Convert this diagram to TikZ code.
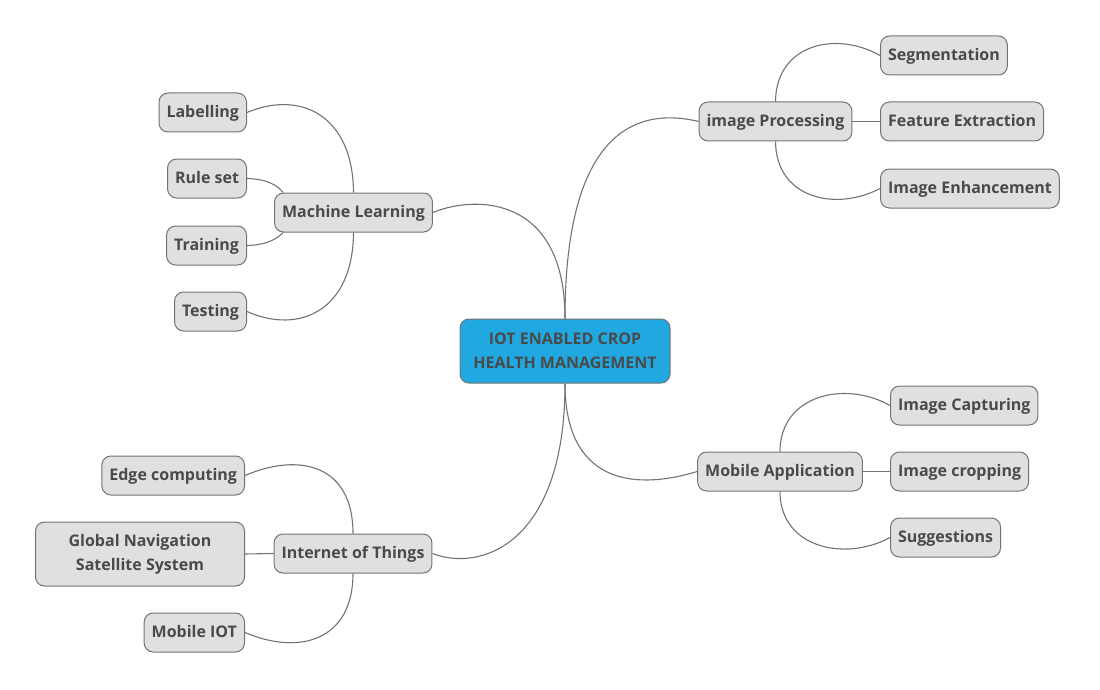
\documentclass[tikz,border=0pt]{standalone}
\usepackage{fontspec}
\setmainfont{Open Sans}
\usetikzlibrary{backgrounds}
\definecolor{txtgray}{HTML}{4A4A4A}
\definecolor{boxfill}{HTML}{E0E0E0}
\definecolor{boxline}{HTML}{737373}
\definecolor{rootfill}{HTML}{22A8E0}
\begin{document}
\begin{tikzpicture}[x=1pt,y=-1pt,
  every node/.style={font=\fontsize{16}{24}\selectfont\bfseries,text=txtgray},
  topic/.style={draw=boxline,fill=boxfill,line width=1pt,rounded corners=9pt,
    minimum height=39pt,inner xsep=7.5pt,inner ysep=0pt,align=center,
    text height=12pt,text depth=2.5pt},
  twolines/.style={text height=,text depth=,minimum height=64pt},
  root/.style={topic,twolines,fill=rootfill,minimum width=210pt},
  link/.style={draw=boxline,line width=1.1pt}]
  \useasboundingbox (0,0) rectangle (1100,690);
  % centre
  \node[root] (crop) at (565,351) {IOT ENABLED CROP\\HEALTH MANAGEMENT};
  % main branches
  \node[topic] (ml) at (353.5,212.5) {Machine Learning};
  \node[topic] (ip) at (775.5,121.5) {image Processing};
  \node[topic] (ma) at (780,471.5) {Mobile Application};
  \node[topic] (iot) at (353,553.5) {Internet of Things};
  % machine learning
  \node[topic,anchor=east] (lab) at (247,112.5) {Labelling};
  \node[topic,anchor=east] (rule) at (247,178.5) {Rule set};
  \node[topic,anchor=east] (train) at (247,245.5) {Training};
  \node[topic,anchor=east] (test) at (247,311.5) {Testing};
  % image processing
  \node[topic,anchor=west] (seg) at (880,55.5) {Segmentation};
  \node[topic,anchor=west] (feat) at (880,121.5) {Feature Extraction};
  \node[topic,anchor=west] (enh) at (880,188.5) {Image Enhancement};
  % mobile application
  \node[topic,anchor=west] (capt) at (890,405.5) {Image Capturing};
  \node[topic,anchor=west] (cropping) at (890,471.5) {Image cropping};
  \node[topic,anchor=west] (sugg) at (890,537.5) {Suggestions};
  % internet of things
  \node[topic,anchor=east] (edge) at (245,475.5) {Edge computing};
  \node[topic,twolines,anchor=east,minimum width=209pt] (gnss) at (245,554)
    {Global Navigation\\Satellite System};
  \node[topic,anchor=east] (mob) at (245,632.5) {Mobile IOT};
  \begin{scope}[on background layer]
    \draw[link] (crop.north) .. controls (565,195) and (475,195) .. (ml.east);
    \draw[link] (crop.north) .. controls (565,140) and (630,105) .. (ip.west);
    \draw[link] (crop.south) .. controls (565,480) and (630,492) .. (ma.west);
    \draw[link] (crop.south) .. controls (565,545) and (480,572) .. (iot.east);
    \draw[link] (ml.north) .. controls (353,115) and (300,90) .. (lab.east);
    \draw[link] (rule.east) .. controls (268,179) and (278,186) .. ([xshift=9pt]ml.north west);
    \draw[link] (train.east) .. controls (268,245) and (278,238) .. ([xshift=9pt]ml.south west);
    \draw[link] (ml.south) .. controls (353,310) and (300,335) .. (test.east);
    \draw[link] (ip.north) .. controls (776,45) and (835,30) .. (seg.west);
    \draw[link] (ip.east) -- (feat.west);
    \draw[link] (ip.south) .. controls (776,198) and (835,212) .. (enh.west);
    \draw[link] (ma.north) .. controls (780,395) and (845,380) .. (capt.west);
    \draw[link] (ma.east) -- (cropping.west);
    \draw[link] (ma.south) .. controls (780,548) and (845,562) .. (sugg.west);
    \draw[link] (iot.north) .. controls (353,465) and (300,452) .. (edge.east);
    \draw[link] (gnss.east) -- (iot.west);
    \draw[link] (iot.south) .. controls (353,640) and (300,656) .. (mob.east);
  \end{scope}
\end{tikzpicture}
\end{document}
